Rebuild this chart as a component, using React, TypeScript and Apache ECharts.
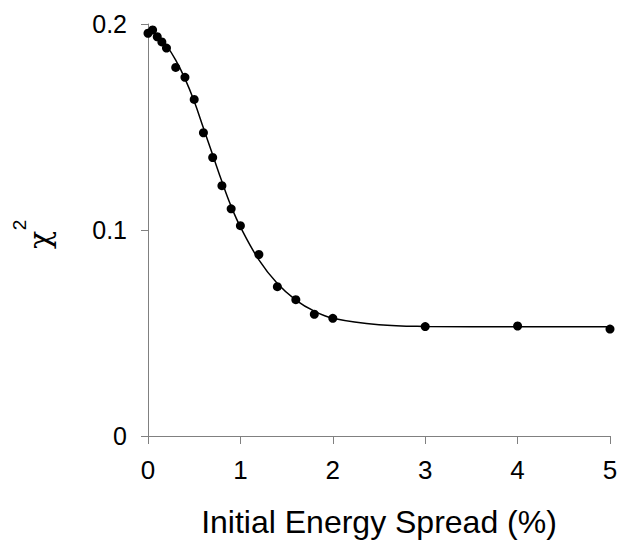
import React, { useEffect, useRef } from "react";
import * as echarts from "echarts";

const spreadX = [0, 0.05, 0.1, 0.15, 0.2, 0.3, 0.4, 0.5, 0.6, 0.7, 0.8, 0.9, 1.0, 1.2, 1.4, 1.6, 1.8, 2.0, 3, 4, 5];
const chiValues = [0.1955, 0.1971, 0.1938, 0.1913, 0.1883, 0.1789, 0.1741, 0.1634, 0.1472, 0.1352, 0.1215, 0.1103, 0.1021, 0.0881, 0.0725, 0.0662, 0.0591, 0.0571, 0.0531, 0.0534, 0.0519];

const fitX = [0, 0.1, 0.2, 0.3, 0.4, 0.5, 0.6, 0.7, 0.8, 0.9, 1.0, 1.2, 1.4, 1.6, 1.8, 2.0, 2.5, 3, 4, 5];
const fitY = [0.1965, 0.1945, 0.1895, 0.1825, 0.1735, 0.1625, 0.1495, 0.1365, 0.1235, 0.1115, 0.1015, 0.0855, 0.0740, 0.0660, 0.0606, 0.0572, 0.0540, 0.0532, 0.0530, 0.0530];

const xTicks = { min: 0, max: 5, interval: 1 };
const yTicks = { min: 0, max: 0.2, interval: 0.1 };

const FONT = "Liberation Sans, Arial, sans-serif";

export default function App() {
  const ref = useRef<HTMLDivElement>(null);
  useEffect(() => {
    if (!ref.current) return;
    document.body.style.margin = "0";
    const chart = echarts.init(ref.current, undefined, { renderer: "svg", width: 628, height: 546 });
    chart.setOption({
      animation: false,
      backgroundColor: "#ffffff",
      grid: { left: 148, right: 18, top: 24, bottom: 110, containLabel: false },
      graphic: [
        {
          type: "text",
          x: 39,
          y: 240,
          rotation: Math.PI / 2,
          style: {
            text: "χ",
            fontFamily: "DejaVu Serif, serif",
            fontSize: 30,
            fill: "#000",
            align: "center",
            verticalAlign: "middle",
          },
        },
        {
          type: "text",
          x: 19,
          y: 225,
          rotation: Math.PI / 2,
          style: {
            text: "2",
            fontFamily: FONT,
            fontSize: 19,
            fill: "#000",
            align: "center",
            verticalAlign: "middle",
          },
        },
      ],
      xAxis: {
        type: "value",
        min: xTicks.min,
        max: xTicks.max,
        interval: xTicks.interval,
        name: "Initial Energy Spread (%)",
        nameLocation: "middle",
        nameGap: 70,
        nameTextStyle: { fontFamily: FONT, fontSize: 32, color: "#000" },
        axisLine: { show: true, lineStyle: { color: "#808080", width: 1 } },
        axisTick: { show: true, inside: false, length: 8, lineStyle: { color: "#808080" } },
        axisLabel: { fontFamily: FONT, fontSize: 26, color: "#000", margin: 21 },
        splitLine: { show: false },
      },
      yAxis: {
        type: "value",
        min: yTicks.min,
        max: yTicks.max,
        interval: yTicks.interval,
        axisLine: { show: true, lineStyle: { color: "#808080", width: 1 } },
        axisTick: { show: true, inside: false, length: 7, lineStyle: { color: "#808080" } },
        axisLabel: { fontFamily: FONT, fontSize: 25, color: "#000", margin: 21 },
        splitLine: { show: false },
      },
      series: [
        {
          type: "line",
          data: fitX.map((x, i) => [x, fitY[i]]),
          smooth: 0.4,
          showSymbol: false,
          lineStyle: { color: "#000", width: 1.5 },
          z: 2,
        },
        {
          type: "scatter",
          data: spreadX.map((x, i) => [x, chiValues[i]]),
          symbol: "circle",
          symbolSize: 9,
          itemStyle: { color: "#000", opacity: 1 },
          z: 3,
        },
      ],
    });
    return () => chart.dispose();
  }, []);
  return <div ref={ref} style={{ width: 628, height: 546, background: "#fff" }} />;
}
